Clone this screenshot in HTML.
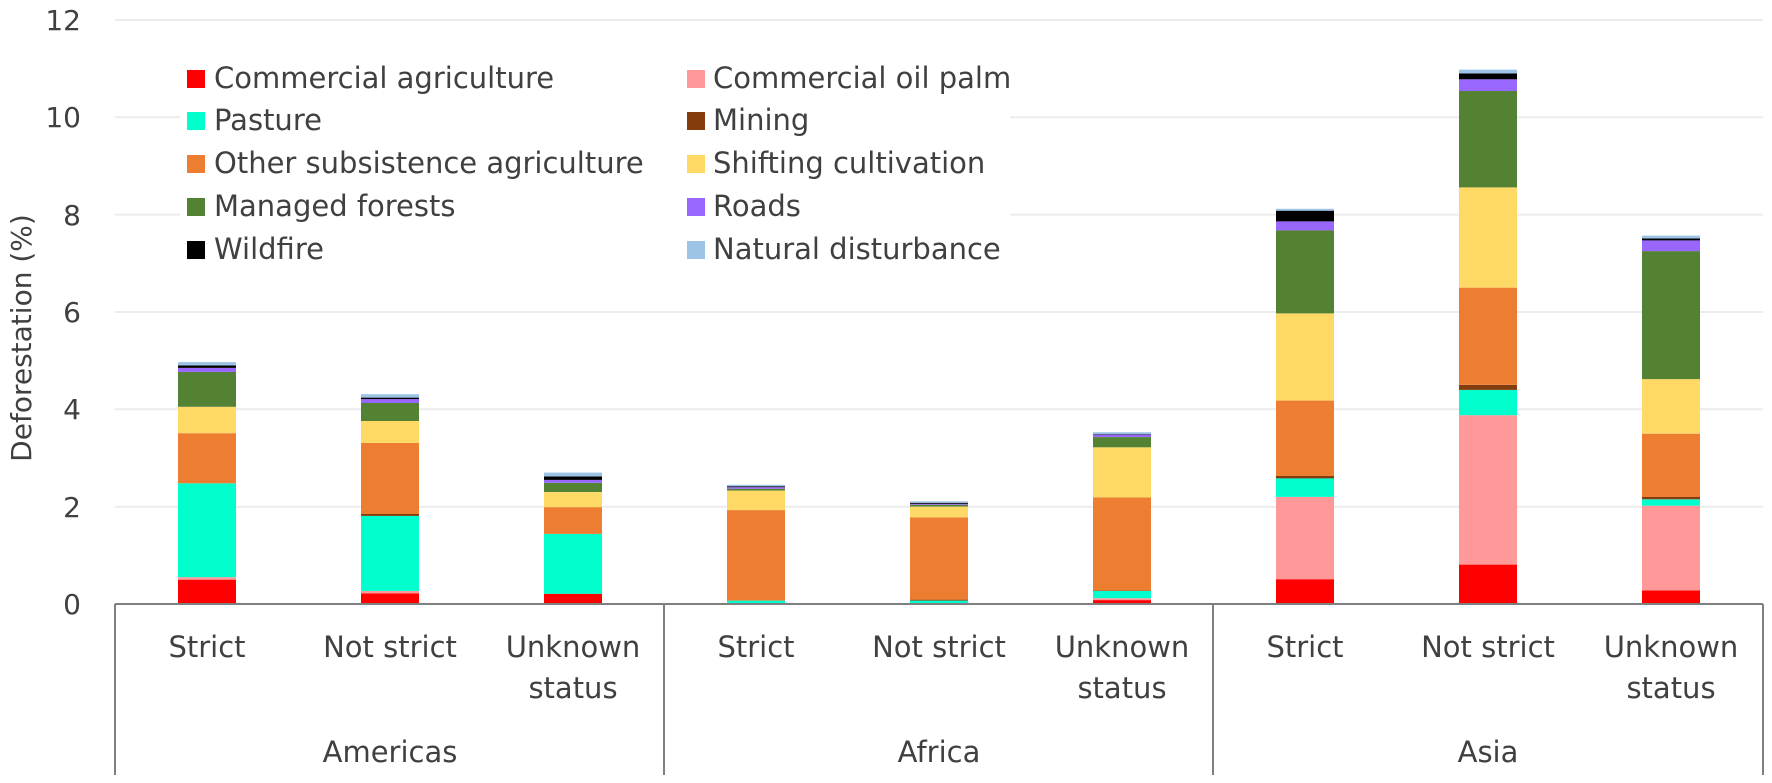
<!DOCTYPE html>
<html><head><meta charset="utf-8"><style>
html,body{margin:0;padding:0;background:#fff;}
svg{display:block;font-family:"DejaVu Sans","Liberation Sans",sans-serif;}
</style></head><body>
<svg id="c" width="1772" height="783" viewBox="0 0 1772 783" xmlns="http://www.w3.org/2000/svg">
<g stroke="#ececec" stroke-width="2">
<line x1="115" x2="1763" y1="506.7" y2="506.7"/>
<line x1="115" x2="1763" y1="409.3" y2="409.3"/>
<line x1="115" x2="1763" y1="312" y2="312"/>
<line x1="115" x2="1763" y1="214.6" y2="214.6"/>
<line x1="115" x2="1763" y1="117.3" y2="117.3"/>
<line x1="115" x2="1763" y1="20" y2="20"/>
</g>
<rect x="180" y="60" width="830" height="220" fill="#fff"/>
<g id="bars"></g>
<g stroke="#7f7f7f" stroke-width="2" fill="none">
<line x1="115" x2="1763" y1="604" y2="604"/>
<line x1="115" x2="115" y1="604" y2="775"/>
<line x1="664" x2="664" y1="604" y2="775"/>
<line x1="1213" x2="1213" y1="604" y2="775"/>
<line x1="1763" x2="1763" y1="604" y2="775"/>
</g>
<g fill="#404040" font-size="28" text-anchor="end">
<text x="81" y="614">0</text>
<text x="81" y="517">2</text>
<text x="81" y="419">4</text>
<text x="81" y="322">6</text>
<text x="81" y="225">8</text>
<text x="81" y="127">10</text>
<text x="81" y="30">12</text>
</g>
<text transform="translate(31,338) rotate(-90)" text-anchor="middle" fill="#404040" font-size="28">Deforestation (%)</text>
<g fill="#404040" font-size="29" text-anchor="middle">
<text x="207" y="657">Strict</text>
<text x="390" y="657">Not strict</text>
<text x="573" y="657">Unknown</text><text x="573" y="698">status</text>
<text x="756" y="657">Strict</text>
<text x="939" y="657">Not strict</text>
<text x="1122" y="657">Unknown</text><text x="1122" y="698">status</text>
<text x="1305" y="657">Strict</text>
<text x="1488" y="657">Not strict</text>
<text x="1671" y="657">Unknown</text><text x="1671" y="698">status</text>
<text x="390" y="762">Americas</text>
<text x="939" y="762">Africa</text>
<text x="1488" y="762">Asia</text>
</g>
<g font-size="29" fill="#404040">
<rect x="187" y="70" width="18" height="18" fill="#ff0000"/><text x="214" y="88">Commercial agriculture</text>
<rect x="187" y="112" width="18" height="18" fill="#00ffcc"/><text x="214" y="130">Pasture</text>
<rect x="187" y="155" width="18" height="18" fill="#ed7d31"/><text x="214" y="173">Other subsistence agriculture</text>
<rect x="187" y="198" width="18" height="18" fill="#548235"/><text x="214" y="216">Managed forests</text>
<rect x="187" y="241" width="18" height="18" fill="#000000"/><text x="214" y="259">Wildfire</text>
<rect x="687" y="70" width="18" height="18" fill="#ff9999"/><text x="713" y="88">Commercial oil palm</text>
<rect x="687" y="112" width="18" height="18" fill="#843c0c"/><text x="713" y="130">Mining</text>
<rect x="687" y="155" width="18" height="18" fill="#ffd966"/><text x="713" y="173">Shifting cultivation</text>
<rect x="687" y="198" width="18" height="18" fill="#9966ff"/><text x="713" y="216">Roads</text>
<rect x="687" y="241" width="18" height="18" fill="#9dc3e6"/><text x="713" y="259">Natural disturbance</text>
</g>
</svg>
<script>
var cols=["#ff0000","#ff9999","#00ffcc","#843c0c","#ed7d31","#ffd966","#548235","#9966ff","#000000","#9dc3e6"];
var cum=[
[0.50,0.55,2.48,2.48,3.51,4.05,4.77,4.85,4.90,4.97],
[0.22,0.27,1.81,1.85,3.31,3.76,4.13,4.21,4.24,4.31],
[0.21,0.21,1.44,1.44,1.99,2.30,2.49,2.55,2.62,2.70],
[0.02,0.02,0.07,0.07,1.93,2.33,2.37,2.40,2.42,2.45],
[0.02,0.02,0.07,0.09,1.78,2.00,2.04,2.06,2.08,2.11],
[0.08,0.12,0.27,0.28,2.19,3.22,3.43,3.48,3.49,3.53],
[0.51,2.20,2.58,2.63,4.18,5.97,7.68,7.86,8.08,8.12],
[0.81,3.88,4.40,4.50,6.50,8.56,10.54,10.78,10.90,10.98],
[0.28,2.02,2.15,2.20,3.50,4.62,7.25,7.47,7.51,7.57]];
var g=document.getElementById("bars"),s="";
function Y(v){return 604-48.67*v;}
for(var i=0;i<9;i++){var cx=207+183*i,prev=0;
for(var k=0;k<10;k++){var v=cum[i][k];if(v>prev){s+='<rect x="'+(cx-29)+'" y="'+Y(v).toFixed(1)+'" width="58" height="'+(Y(prev)-Y(v)).toFixed(1)+'" fill="'+cols[k]+'"/>';}prev=v;}}
g.innerHTML=s;
</script>
</body></html>
